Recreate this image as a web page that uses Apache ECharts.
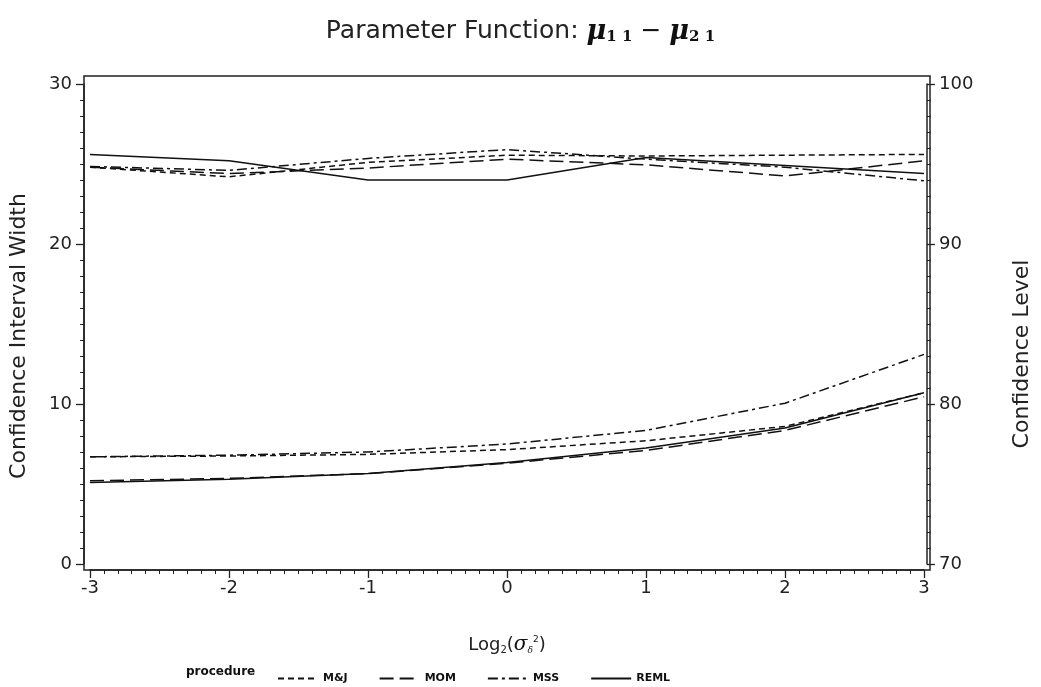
<!DOCTYPE html>
<html>
<head>
<meta charset="utf-8">
<script src="https://cdn.jsdelivr.net/npm/echarts@6/dist/echarts.min.js"></script>
<style>html,body{margin:0;padding:0;background:#fff}#c{width:1041px;height:687px}</style>
</head>
<body>
<div id="c"></div>
<script>
// x positions: Log2(sigma_delta^2)
const xs = [-3, -2, -1, 0, 1, 2, 3];
const procedures = ['M&J', 'MOM', 'MSS', 'REML'];
// Confidence interval width (left axis)
const widthMJ   = [6.7, 6.75, 6.85, 7.15, 7.7, 8.6, 10.7];
const widthMOM  = [5.2, 5.35, 5.65, 6.3, 7.1, 8.35, 10.45];
const widthMSS  = [6.7, 6.8, 7.0, 7.5, 8.35, 10.05, 13.1];
const widthREML = [5.1, 5.3, 5.65, 6.35, 7.25, 8.5, 10.7];
// Confidence level (right axis)
const levelMJ   = [94.8, 94.2, 95.1, 95.55, 95.5, 95.55, 95.6];
const levelMOM  = [94.8, 94.4, 94.75, 95.3, 94.95, 94.25, 95.2];
const levelMSS  = [94.85, 94.6, 95.35, 95.9, 95.3, 94.8, 93.95];
const levelREML = [95.6, 95.2, 94.0, 94.0, 95.4, 94.9, 94.4];
const leftTicks = [0, 10, 20, 30];
const rightTicks = [70, 80, 90, 100];

const dashes = {
  'M&J': [6, 4],
  'MOM': [14, 6],
  'MSS': [10, 4, 3, 4],
  'REML': 'solid'
};
const widthData = {'M&J': widthMJ, 'MOM': widthMOM, 'MSS': widthMSS, 'REML': widthREML};
const levelData = {'M&J': levelMJ, 'MOM': levelMOM, 'MSS': levelMSS, 'REML': levelREML};

function pairs(arr) { return xs.map((x, i) => [x, arr[i]]); }

const series = [];
procedures.forEach(p => {
  series.push({
    name: p, type: 'line', yAxisIndex: 0, symbol: 'none', showSymbol: false, silent: true,
    data: pairs(widthData[p]),
    lineStyle: {color: '#111', width: 1.5, type: dashes[p]},
    itemStyle: {color: '#111'}
  });
});
procedures.forEach(p => {
  series.push({
    name: p, type: 'line', yAxisIndex: 1, symbol: 'none', showSymbol: false, silent: true,
    data: pairs(levelData[p]),
    lineStyle: {color: '#111', width: 1.5, type: dashes[p]},
    itemStyle: {color: '#111'}
  });
});

const lblFont = {fontFamily: 'DejaVu Sans', fontSize: 18, color: '#222'};
const chart = echarts.init(document.getElementById('c'), null, {renderer: 'canvas'});
chart.setOption({
  animation: false,
  backgroundColor: '#fff',
  title: {
    text: 'Parameter Function: {mu|μ}{sub|1 1}{op| − }{mu|μ}{sub|2 1}',
    left: 'center', top: 13,
    textStyle: {
      fontFamily: 'DejaVu Sans', fontSize: 25, fontWeight: 'normal', color: '#222',
      rich: {
        mu: {fontFamily: 'DejaVu Serif', fontStyle: 'italic', fontWeight: 'bold', fontSize: 27, color: '#111'},
        sub: {fontFamily: 'DejaVu Serif', fontWeight: 'bold', fontSize: 15, color: '#111', verticalAlign: 'bottom'},
        op: {fontFamily: 'DejaVu Sans', fontSize: 25, color: '#111'}
      }
    }
  },
  legend: {
    data: procedures,
    left: 272, top: 668,
    itemWidth: 40, itemHeight: 10, itemGap: 31,
    itemStyle: {opacity: 0},
    textStyle: {fontFamily: 'DejaVu Sans', fontWeight: 'bold', fontSize: 11, color: '#111'},
    selectedMode: false
  },
  graphic: [
    {type: 'text', left: 186, top: 666,
     style: {text: 'procedure', font: 'bold 12px DejaVu Sans', fill: '#111'}},
    {type: 'rect', shape: {x: 84, y: 76, width: 846, height: 494},
     style: {fill: 'none', stroke: '#222', lineWidth: 1.5}, silent: true, z: 10}
  ],
  grid: {left: 90, right: 114, top: 84, bottom: 123, containLabel: false},
  xAxis: {
    type: 'value', min: -3, max: 3, interval: 1, offset: 6,
    name: '{t|Log}{s|2}{t|(}{g|σ}{ss|δ}{sp|2}{t|)}',
    nameLocation: 'middle', nameGap: 65,
    nameTextStyle: {
      rich: {
        t: {fontFamily: 'DejaVu Sans', fontSize: 18, color: '#222'},
        s: {fontFamily: 'DejaVu Sans', fontSize: 10, color: '#222', verticalAlign: 'bottom', padding: [8, 0, 0, 0]},
        g: {fontFamily: 'DejaVu Serif', fontStyle: 'italic', fontSize: 20, color: '#111'},
        ss: {fontFamily: 'DejaVu Serif', fontStyle: 'italic', fontSize: 9, color: '#111', verticalAlign: 'bottom', padding: [8, 0, 0, 0]},
        sp: {fontFamily: 'DejaVu Sans', fontSize: 9, color: '#111', verticalAlign: 'top', padding: [0, 0, 8, 0]}
      }
    },
    axisLine: {show: true, onZero: false, lineStyle: {color: '#222', width: 1.5}},
    axisTick: {show: true, length: 8, lineStyle: {color: '#222', width: 1.3}},
    minorTick: {show: true, splitNumber: 10, length: 4, lineStyle: {color: '#222', width: 1}},
    axisLabel: Object.assign({margin: 9, formatter: v => String(v)}, lblFont),
    splitLine: {show: false}
  },
  yAxis: [
    {
      type: 'value', min: 0, max: 30, interval: 10, offset: 6, position: 'left',
      name: 'Confidence Interval Width', nameLocation: 'middle', nameGap: 54,
      nameTextStyle: {fontFamily: 'DejaVu Sans', fontSize: 22, color: '#222', padding: [0, 24, 0, 0]},
      axisLine: {show: true, onZero: false, lineStyle: {color: '#222', width: 1.5}},
      axisTick: {show: true, length: 8, lineStyle: {color: '#222', width: 1.3}},
      minorTick: {show: true, splitNumber: 10, length: 4, lineStyle: {color: '#222', width: 1}},
      axisLabel: Object.assign({margin: 12, formatter: v => leftTicks.includes(v) ? String(v) : ''}, lblFont),
      splitLine: {show: false}
    },
    {
      type: 'value', min: 70, max: 100, interval: 10, offset: 3, position: 'right',
      name: 'Confidence Level', nameLocation: 'middle', nameGap: 84,
      nameTextStyle: {fontFamily: 'DejaVu Sans', fontSize: 22, color: '#222', padding: [0, 60, 0, 0]},
      axisLine: {show: true, onZero: false, lineStyle: {color: '#222', width: 1.5}},
      axisTick: {show: true, length: 8, lineStyle: {color: '#222', width: 1.3}},
      minorTick: {show: true, splitNumber: 10, length: 4, lineStyle: {color: '#222', width: 1}},
      axisLabel: Object.assign({margin: 12, formatter: v => rightTicks.includes(v) ? String(v) : ''}, lblFont),
      splitLine: {show: false}
    }
  ],
  series: series
});
</script>
</body>
</html>
